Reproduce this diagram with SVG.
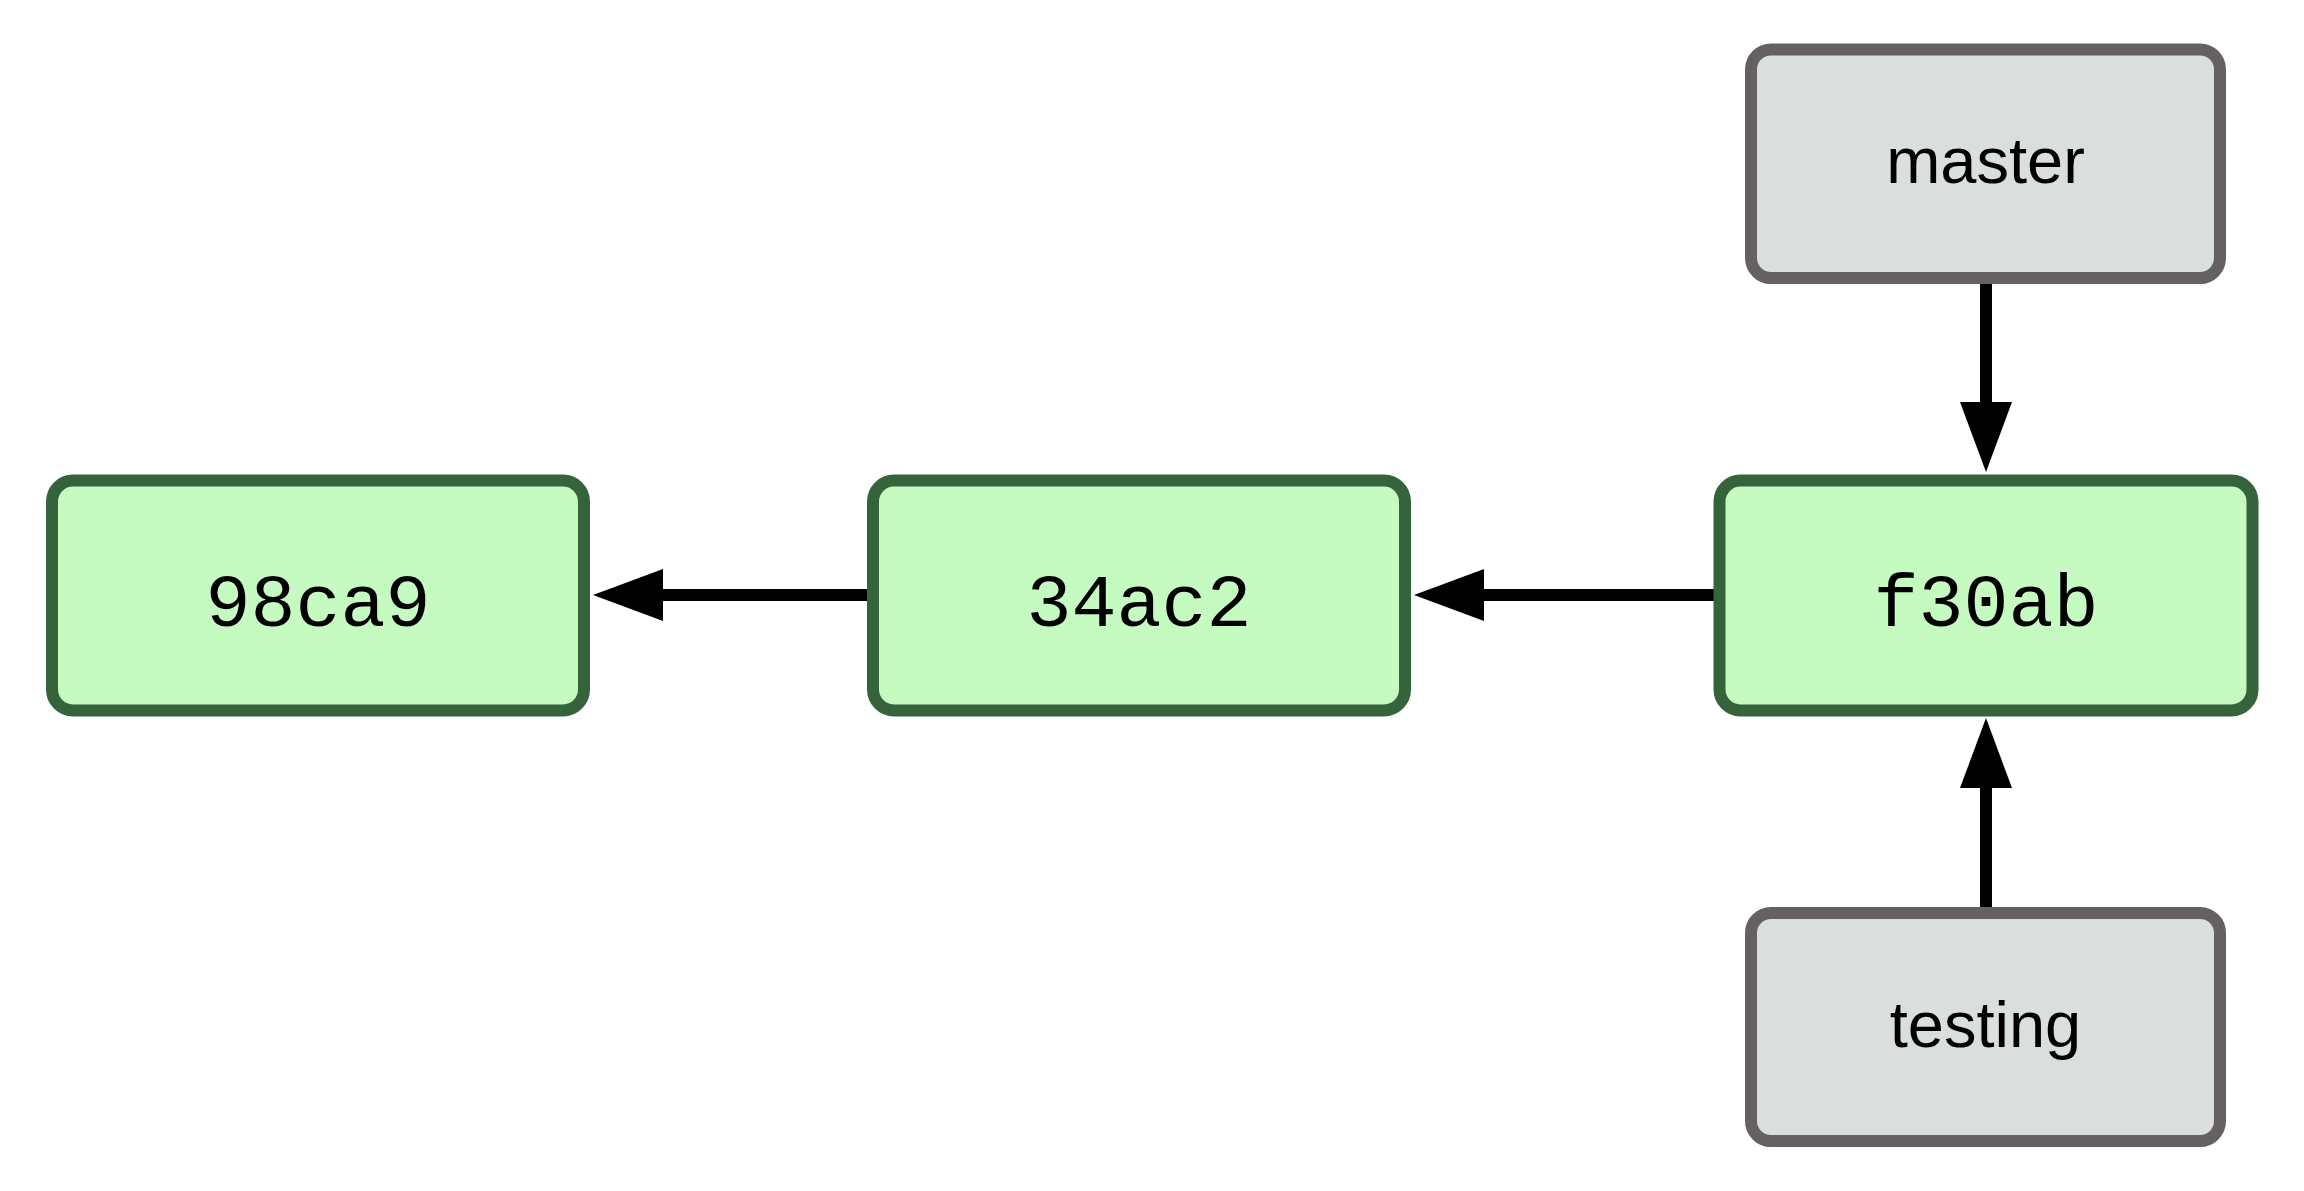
<svg xmlns="http://www.w3.org/2000/svg" width="2304" height="1191" viewBox="0 0 2304 1191">
<style>
.commit rect{fill:#c5fac0;stroke:#35633b;stroke-width:12}
.branch rect{fill:#dadedd;stroke:#656161;stroke-width:12}
.commit text{font-family:"Liberation Mono","Courier New",monospace;font-size:75px;fill:#000;text-anchor:middle}
.branch text{font-family:"Liberation Sans",Arial,sans-serif;font-size:65px;fill:#000;text-anchor:middle}
.edge{stroke:#000;stroke-width:12;stroke-linecap:round;fill:none;marker-end:url(#head)}
</style>
<defs>
<marker id="head" markerUnits="userSpaceOnUse" markerWidth="70" markerHeight="52" refX="0" refY="26" orient="auto" overflow="visible">
<path d="M0,0 L70,26 L0,52 Z" fill="#000"/>
</marker>
</defs>
<rect width="2304" height="1191" fill="#fff"/>
<g id="connectors">
<path class="edge" d="M872,595 L663,595"/>
<path class="edge" d="M1716,595 L1484,595"/>
<path class="edge" d="M1986,279 L1986,402"/>
<path class="edge" d="M1986,908 L1986,788"/>
</g>
<g id="n98ca9" class="commit">
<rect x="52" y="480.5" width="532" height="230" rx="21"/>
<text x="318" y="626">98ca9</text>
</g>
<g id="n34ac2" class="commit">
<rect x="873" y="480.5" width="532" height="230" rx="21"/>
<text x="1139" y="626">34ac2</text>
</g>
<g id="nf30ab" class="commit">
<rect x="1719.5" y="480.5" width="533" height="230" rx="21"/>
<text x="1986" y="626">f30ab</text>
</g>
<g id="master" class="branch">
<rect x="1751" y="49.5" width="469" height="228.5" rx="20"/>
<text x="1985.5" y="183">master</text>
</g>
<g id="testing" class="branch">
<rect x="1751" y="913" width="469" height="228" rx="20"/>
<text x="1985.5" y="1047">testing</text>
</g>
</svg>
